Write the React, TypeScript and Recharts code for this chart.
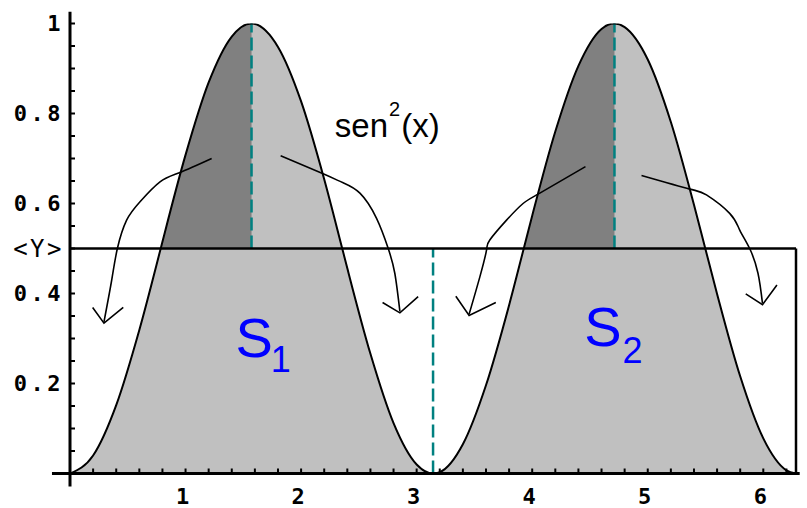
import React from "react";
import { ComposedChart, Area, Line, XAxis, YAxis, ReferenceLine, ReferenceDot } from "recharts";

// sen^2(x)
const xs = [0, 0.2, 0.4, 0.6, 0.785, 0.8, 1.0, 1.2, 1.4, 1.571, 1.8, 2.0, 2.2, 2.356, 2.4, 2.6, 2.8, 3.0, 3.142, 3.2, 3.4, 3.6, 3.8, 3.927, 4.0, 4.2, 4.4, 4.6, 4.712, 4.8, 5.0, 5.2, 5.4, 5.498, 5.6, 5.8, 6.0, 6.2, 6.283];
const ys = [0, 0.04, 0.152, 0.319, 0.5, 0.515, 0.708, 0.869, 0.971, 1, 0.948, 0.827, 0.654, 0.5, 0.456, 0.266, 0.112, 0.02, 0, 0.003, 0.065, 0.196, 0.374, 0.5, 0.573, 0.76, 0.906, 0.988, 1, 0.992, 0.92, 0.781, 0.597, 0.5, 0.399, 0.216, 0.078, 0.007, 0];

const meanY = 0.5; // <Y>
const xEnd = 6.283; // 2π
const darkRanges = [[0.785, 1.571], [3.927, 4.712]];
const dashedX = [1.571, 3.142, 4.712];
const dashedSpans = [[0.5, 1], [0, 0.5], [0.5, 1]];

const xTicks = [0.2, 0.4, 0.6, 0.8, 1, 1.2, 1.4, 1.6, 1.8, 2, 2.2, 2.4, 2.6, 2.8, 3, 3.2, 3.4, 3.6, 3.8, 4, 4.2, 4.4, 4.6, 4.8, 5, 5.2, 5.4, 5.6, 5.8, 6, 6.2];
const xMajor = [1, 2, 3, 4, 5, 6];
const xLabels = ["1", "2", "3", "4", "5", "6"];
const yTicks = [0.05, 0.1, 0.15, 0.2, 0.25, 0.3, 0.35, 0.4, 0.45, 0.5, 0.55, 0.6, 0.65, 0.7, 0.75, 0.8, 0.85, 0.9, 0.95, 1];
const yMajor = [0.2, 0.4, 0.5, 0.6, 0.8, 1];
const yLabels = ["0.2", "0.4", "<Y>", "0.6", "0.8", "1"];

const axisExtentX = [-0.156, 6.315];
const axisExtentY = [-0.029, 1.026];

// curved arrows (data coordinates)
const arrow1 = [{ x: 1.226, y: 0.7 }, { x: 0.952, y: 0.669 }, { x: 0.779, y: 0.648 }, { x: 0.606, y: 0.604 }, { x: 0.49, y: 0.563 }, { x: 0.41, y: 0.5 }, { x: 0.361, y: 0.43 }, { x: 0.294, y: 0.337 }];
const head1 = [{ x: 0.196, y: 0.369 }, { x: 0.294, y: 0.334 }, { x: 0.461, y: 0.369 }];
const arrow2 = [{ x: 1.823, y: 0.706 }, { x: 2.191, y: 0.666 }, { x: 2.364, y: 0.646 }, { x: 2.509, y: 0.623 }, { x: 2.653, y: 0.567 }, { x: 2.754, y: 0.5 }, { x: 2.811, y: 0.445 }, { x: 2.855, y: 0.36 }];
const head2 = [{ x: 2.705, y: 0.38 }, { x: 2.855, y: 0.357 }, { x: 3.013, y: 0.393 }];
const arrow3 = [{ x: 4.461, y: 0.682 }, { x: 4.066, y: 0.623 }, { x: 3.921, y: 0.6 }, { x: 3.778, y: 0.563 }, { x: 3.633, y: 0.519 }, { x: 3.605, y: 0.497 }, { x: 3.547, y: 0.437 }, { x: 3.454, y: 0.354 }];
const head3 = [{ x: 3.339, y: 0.394 }, { x: 3.454, y: 0.351 }, { x: 3.685, y: 0.38 }];
const arrow4 = [{ x: 4.946, y: 0.662 }, { x: 5.363, y: 0.632 }, { x: 5.508, y: 0.619 }, { x: 5.709, y: 0.578 }, { x: 5.796, y: 0.541 }, { x: 5.882, y: 0.5 }, { x: 5.954, y: 0.445 }, { x: 5.993, y: 0.378 }];
const head4 = [{ x: 5.848, y: 0.399 }, { x: 5.993, y: 0.375 }, { x: 6.118, y: 0.419 }];

const arrows = [arrow1, arrow2, arrow3, arrow4];
const heads = [head1, head2, head3, head4];

const inDark = (x: number) => darkRanges.some(([a, b]) => x >= a - 1e-9 && x <= b + 1e-9);
const curveData = xs.map((x, i) => ({ x, y: ys[i], dark: inDark(x) ? [meanY, ys[i]] : null }));

const monoFont = "'DejaVu Sans Mono', monospace";

const XTick = (props: any) => {
  const { x, y, payload } = props;
  const idx = xMajor.findIndex((m) => Math.abs(m - payload.value) < 1e-6);
  return (
    <g>
      <line x1={x} x2={x} y1={y} y2={y - 5} stroke="#000" strokeWidth={2} />
      {idx >= 0 && (
        <text x={x - 3} y={y + 30} textAnchor="middle" fontFamily={monoFont} fontWeight="bold" fontSize={22} fill="#000">
          {xLabels[idx]}
        </text>
      )}
    </g>
  );
};

const YTick = (props: any) => {
  const { x, y, payload } = props;
  const idx = yMajor.findIndex((m) => Math.abs(m - payload.value) < 1e-6);
  const lab = idx >= 0 ? yLabels[idx] : null;
  const isMean = lab === "<Y>";
  return (
    <g>
      <line x1={x} x2={x + 5} y1={y} y2={y} stroke="#000" strokeWidth={2} />
      {lab && (
        <text x={x - 6} y={y} dy="0.36em" textAnchor="end" fontFamily={monoFont} fontWeight={isMean ? "normal" : "bold"} fontSize={isMean ? 24 : 22} letterSpacing={isMean ? 2.5 : 3.5} fill="#000">
          {lab}
        </text>
      )}
    </g>
  );
};

const SenLabel = (p: any) => (
  <text x={p.cx} y={p.cy} fontFamily="'Liberation Sans', Arial, sans-serif" fontSize={33} fill="#000">
    sen
    <tspan dx={1} dy={-21} fontSize={20}>2</tspan>
    <tspan dx={1} dy={21} fontSize={33}>(x)</tspan>
  </text>
);

const S1Label = (p: any) => (
  <text x={p.cx} y={p.cy} fontFamily="'Liberation Sans', Arial, sans-serif" fontSize={56} fill="#0000ff">
    S
    <tspan dx={-2} dy={15} fontSize={36}>1</tspan>
  </text>
);

const S2Label = (p: any) => (
  <text x={p.cx} y={p.cy} fontFamily="'Liberation Sans', Arial, sans-serif" fontSize={56} fill="#0000ff">
    S
    <tspan dx={1} dy={17} fontSize={36}>2</tspan>
  </text>
);

export default function App() {
  return (
    <div style={{ position: "absolute", left: 0, top: 0, width: 807, height: 508, background: "#fff" }}>
      <ComposedChart width={807} height={508} data={curveData} margin={{ top: 23.5, right: 11, bottom: 0, left: 0 }}>
        <Area type="monotone" dataKey="y" fill="#c0c0c0" fillOpacity={1} stroke="none" isAnimationActive={false} />
        <Area type="monotone" dataKey="dark" fill="#808080" fillOpacity={1} stroke="none" connectNulls={false} isAnimationActive={false} />
        {dashedX.map((dx, i) => (
          <ReferenceLine key={"d" + i} segment={[{ x: dx, y: dashedSpans[i][0] }, { x: dx, y: dashedSpans[i][1] }]} stroke="#008080" strokeWidth={2.5} strokeDasharray="13 5" ifOverflow="visible" />
        ))}
        <ReferenceLine segment={[{ x: 0, y: meanY }, { x: xEnd, y: meanY }]} stroke="#000" strokeWidth={2.5} ifOverflow="visible" />
        <ReferenceLine segment={[{ x: xEnd, y: meanY }, { x: xEnd, y: 0 }]} stroke="#000" strokeWidth={2.5} ifOverflow="visible" />
        <Line type="monotone" dataKey="y" stroke="#000" strokeWidth={2} dot={false} isAnimationActive={false} />
        {arrows.map((a, i) => (
          <Line key={"a" + i} data={a} dataKey="y" type="natural" stroke="#000" strokeWidth={1.6} dot={false} isAnimationActive={false} />
        ))}
        {heads.map((h, i) => (
          <Line key={"h" + i} data={h} dataKey="y" type="linear" stroke="#000" strokeWidth={1.6} dot={false} isAnimationActive={false} />
        ))}
        <ReferenceLine segment={[{ x: axisExtentX[0], y: 0 }, { x: axisExtentX[1], y: 0 }]} stroke="#000" strokeWidth={3} ifOverflow="visible" />
        <ReferenceLine segment={[{ x: 0, y: axisExtentY[0] }, { x: 0, y: axisExtentY[1] }]} stroke="#000" strokeWidth={3} ifOverflow="visible" />
        <ReferenceDot x={2.292} y={0.748} r={0} shape={SenLabel} ifOverflow="visible" />
        <ReferenceDot x={1.432} y={0.259} r={0} shape={S1Label} ifOverflow="visible" />
        <ReferenceDot x={4.45} y={0.283} r={0} shape={S2Label} ifOverflow="visible" />
        <XAxis type="number" dataKey="x" domain={[0, xEnd]} ticks={xTicks} interval={0} allowDataOverflow axisLine={false} tickLine={false} tickSize={0} tickMargin={0} height={34.5} tick={<XTick />} />
        <YAxis type="number" domain={[0, 1]} ticks={yTicks} interval={0} allowDataOverflow axisLine={false} tickLine={false} tickSize={0} tickMargin={0} width={70} tick={<YTick />} />
      </ComposedChart>
    </div>
  );
}
